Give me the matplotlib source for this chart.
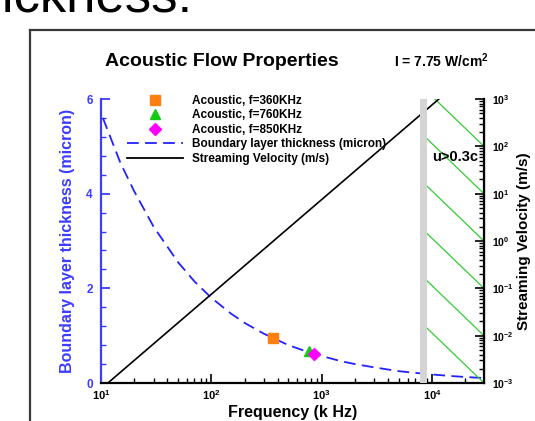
import matplotlib
matplotlib.use("Agg")
import matplotlib.pyplot as plt
from matplotlib.lines import Line2D
from matplotlib.ticker import FixedLocator, LogLocator, NullFormatter

plt.rcParams["font.family"] = ["Liberation Sans", "DejaVu Sans"]
plt.rcParams["font.weight"] = "bold"
plt.rcParams["mathtext.fontset"] = "custom"
plt.rcParams["mathtext.rm"] = "Liberation Sans:bold"
plt.rcParams["mathtext.bf"] = "Liberation Sans:bold"
plt.rcParams["mathtext.it"] = "Liberation Sans:bold"

# boundary layer thickness (micron) vs frequency (kHz)
freq_khz = [10.4, 15, 20, 30, 50, 70, 100, 150, 200, 300, 500, 700,
            1000, 1500, 2000, 3000, 5000, 7000, 10000, 15000, 20000, 30000]
thickness_um = [5.6, 4.65, 4.05, 3.3, 2.55, 2.15, 1.8, 1.47, 1.27, 1.04, 0.80, 0.68,
                0.57, 0.46, 0.40, 0.33, 0.25, 0.215, 0.18, 0.147, 0.127, 0.104]

# streaming velocity (m/s)
vel_freq_khz = [10, 100, 1000, 10000, 30000]
velocity_ms = [7.5e-4, 7.5e-2, 7.5, 750, 6750]

# acoustic measurements
meas_freq = [360, 760, 850]
meas_thick = [0.95, 0.67, 0.61]
meas_labels = ["Acoustic, f=360KHz", "Acoustic, f=760KHz", "Acoustic, f=850KHz"]
meas_markers = ["s", "^", "D"]
meas_colors = ["#ff7f0e", "#11cc11", "#ff00ff"]

# u > 0.3c region
band_khz = [7800, 9000]
hatch_end_decades = [-3, -2, -1, 0, 1, 2]
hatch_rise = 1.16

BLUE = "#3c3cff"

fig = plt.figure(figsize=(5.35, 4.21), dpi=100)
W, H = 535, 421
ax = fig.add_axes([101 / W, 38 / H, 383 / W, 284 / H])
ax2 = ax.twinx()

ax.set_xscale("log")
ax.set_xlim(10, 29600)
ax.set_ylim(0, 6)
ax2.set_yscale("log")
ax2.set_ylim(1e-3, 1e3)

ax.plot(freq_khz, thickness_um, color="#2222ff", lw=1.3, dashes=(6.5, 3.5), zorder=3)
for f, t, m, c in zip(meas_freq, meas_thick, meas_markers, meas_colors):
    ax.plot([f], [t], marker=m, color=c, ms=7 if m != "D" else 6, ls="none", zorder=4)

ax2.plot(vel_freq_khz, velocity_ms, color="black", lw=1.2, zorder=2)
for k in hatch_end_decades:
    ax2.plot([band_khz[1], 29600], [10 ** (k + hatch_rise), 10 ** k],
             color="#33cc33", lw=0.9, zorder=1)
ax2.axvspan(band_khz[0], band_khz[1], color="#d4d4d4", lw=0, zorder=5)
ax2.text(0.985, 0.796, "u>0.3c", transform=ax.transAxes, ha="right", va="center",
         fontsize=10.5, fontweight="bold", zorder=6)

# spines and ticks
for a in (ax, ax2):
    a.spines["top"].set_visible(False)
ax.spines["left"].set_color(BLUE)
ax.spines["left"].set_linewidth(1.6)
ax.spines["bottom"].set_linewidth(1.6)
ax2.spines["right"].set_linewidth(1.6)
ax2.spines["left"].set_visible(False)
ax2.spines["bottom"].set_visible(False)

ax.yaxis.set_major_locator(FixedLocator([0, 2, 4, 6]))
ax.yaxis.set_minor_locator(FixedLocator([0.4 * i for i in range(16)]))
ax.tick_params(axis="y", which="both", direction="in", colors=BLUE,
               labelsize=8.5, pad=6)
ax.tick_params(axis="y", which="major", length=6.5, width=1.3)
ax.tick_params(axis="y", which="minor", length=3.5, width=1.0)

ax.xaxis.set_major_locator(LogLocator(base=10, numticks=10))
ax.xaxis.set_minor_locator(LogLocator(base=10, subs=range(2, 10), numticks=20))
ax.xaxis.set_minor_formatter(NullFormatter())
ax.tick_params(axis="x", which="both", direction="in", labelsize=8, pad=4)
ax.tick_params(axis="x", which="major", length=6.5, width=1.2)
ax.tick_params(axis="x", which="minor", length=3.5, width=1.0)

ax2.yaxis.set_major_locator(LogLocator(base=10, numticks=10))
ax2.yaxis.set_minor_locator(LogLocator(base=10, subs=range(2, 10), numticks=20))
ax2.yaxis.set_minor_formatter(NullFormatter())
ax2.tick_params(axis="y", which="both", direction="in", labelsize=7.5, pad=6)
ax2.tick_params(axis="y", which="major", length=6.5, width=1.2)
ax2.tick_params(axis="y", which="minor", length=3.5, width=1.0)

ax.set_xlabel("Frequency (k Hz)", fontsize=11.5, fontweight="bold", labelpad=2)
ax.set_ylabel("Boundary layer thickness (micron)", fontsize=11.5, fontweight="bold",
              color=BLUE, labelpad=8)
ax2.set_ylabel("Streaming Velocity (m/s)", fontsize=11, fontweight="bold", labelpad=2)

fig.text(105 / W, 1 - 61 / H, "Acoustic Flow Properties", fontsize=14,
         fontweight="bold", va="center")
fig.text(394 / W, 1 - 61 / H, r"I = 7.75 W/cm$^2$", fontsize=10,
         fontweight="bold", va="center")

handles = [Line2D([], [], marker=m, color=c, ls="none", ms=7 if m != "D" else 6)
           for m, c in zip(meas_markers, meas_colors)]
handles.append(Line2D([], [], color="#2222ff", lw=1.3, dashes=(6.5, 3.5)))
handles.append(Line2D([], [], color="black", lw=1.3))
labels = meas_labels + ["Boundary layer thickness (micron)", "Streaming Velocity (m/s)"]
leg = ax2.legend(handles, labels, loc="upper left",
                 bbox_to_anchor=(127 / W, 1 - 95 / H), bbox_transform=fig.transFigure,
                 frameon=False, fontsize=8.5, handlelength=4.75, handletextpad=0.76,
                 labelspacing=0.21, borderpad=0, borderaxespad=0)
leg.set_zorder(7)
for t in leg.get_texts():
    t.set_fontweight("bold")

# page frame and clipped slide heading
fig.add_artist(Line2D([30 / W, 30 / W], [0, 1 - 30 / H], color="#3a3a3a", lw=1.6,
                      transform=fig.transFigure))
fig.add_artist(Line2D([30 / W, 1], [1 - 30 / H, 1 - 30 / H], color="#3a3a3a", lw=1.6,
                      transform=fig.transFigure))
fig.text(-42 / W, 1 - 12 / H, "thickness:", fontsize=38, fontweight="normal",
         va="baseline")

fig.savefig("out.png", dpi=100)
